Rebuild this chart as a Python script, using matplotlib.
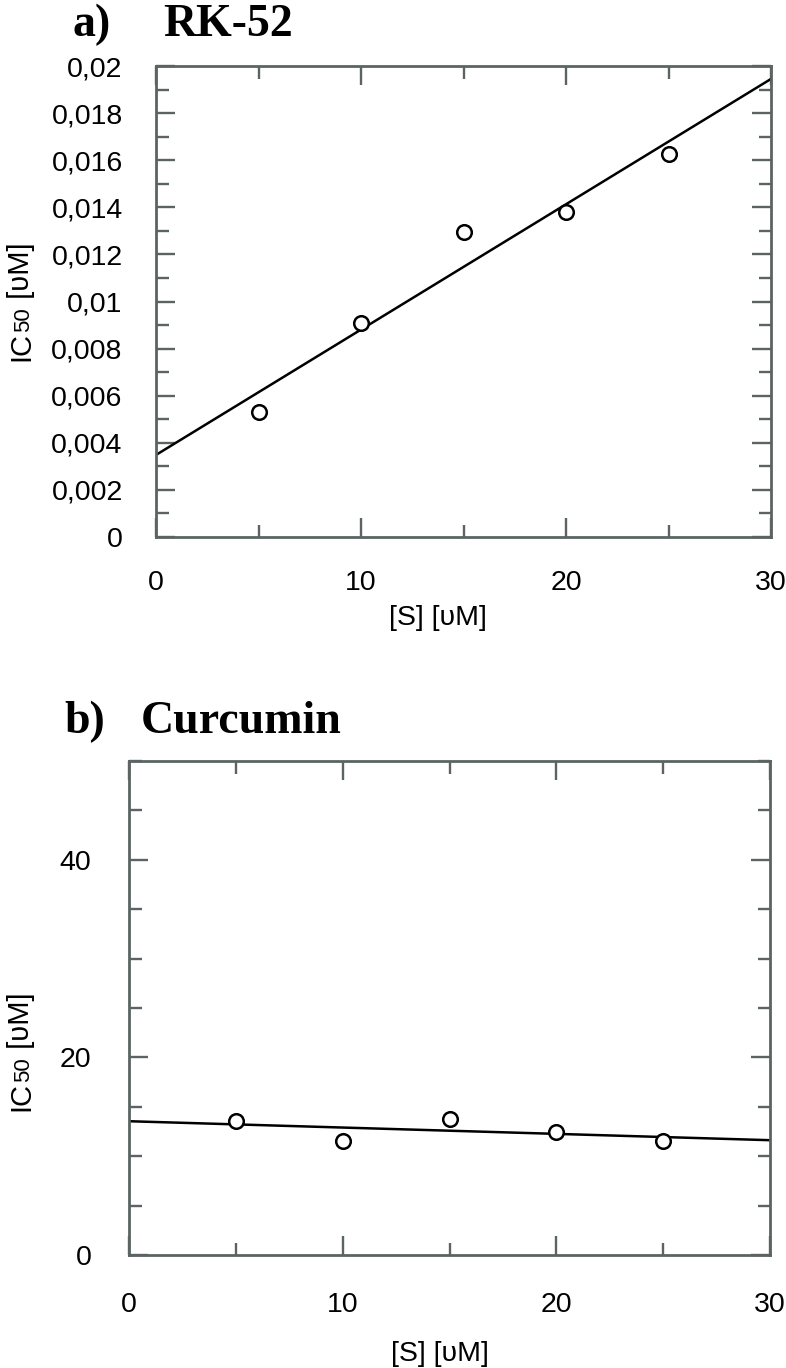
import numpy as np
import matplotlib
matplotlib.use('Agg')
from matplotlib import pyplot as plt
from matplotlib.ticker import MultipleLocator, FuncFormatter

# data
s_conc = [5, 10, 15, 20, 25]                                  # [S] in uM
ic50_rk52 = [0.00529, 0.00909, 0.01293, 0.01378, 0.01625]     # panel a
ic50_curcumin = [13.6, 11.5, 13.8, 12.5, 11.5]                # panel b
x_range = [0, 30]

W, H = 786, 1368
sans = ['Liberation Sans', 'DejaVu Sans']
serif = ['Liberation Serif', 'DejaVu Serif']
axis_grey = '#5c6363'

fig = plt.figure(figsize=(W / 100, H / 100), dpi=100)


def comma_fmt(v, pos):
    if abs(v) < 1e-12:
        return '0'
    return f'{v:g}'.replace('.', ',')


def setup_axes(rect, ylim, ymajor, yminor, xlabel_pos):
    ax = fig.add_axes(rect)
    ax.set_xlim(*x_range)
    ax.set_ylim(*ylim)
    ax.xaxis.set_major_locator(MultipleLocator(10))
    ax.xaxis.set_minor_locator(MultipleLocator(5))
    ax.yaxis.set_major_locator(MultipleLocator(ymajor))
    ax.yaxis.set_minor_locator(MultipleLocator(yminor))
    ax.yaxis.set_major_formatter(FuncFormatter(comma_fmt))
    for sp in ax.spines.values():
        sp.set_color(axis_grey)
        sp.set_linewidth(2)
    ax.tick_params(which='both', direction='in', top=True, right=True,
                   color=axis_grey, width=1.7)
    ax.tick_params(which='major', length=13.5, pad=24, labelsize=20.5)
    ax.tick_params(which='minor', length=9)
    for lab in ax.get_xticklabels() + ax.get_yticklabels():
        lab.set_family(sans)
    ax.set_xlabel('[S] [υM]', fontsize=20.5, family=sans)
    ax.xaxis.set_label_coords(*xlabel_pos)
    return ax


def draw_series(ax, x, y):
    slope, icpt = np.polyfit(x, y, 1)
    xs = np.array(x_range, dtype=float)
    ax.plot(xs, icpt + slope * xs, c='black', lw=1.8, zorder=2)
    ax.plot(x, y, ls='none', marker='o', ms=10.5, mfc='white', mec='black',
            mew=1.8, zorder=3, clip_on=False)


def rotated_ylabel(x_px, y_px_top_img, parts):
    # parts drawn bottom-to-top, "50" smaller on the same baseline
    renderer = fig.canvas.get_renderer()
    y = H - y_px_top_img
    for s, size in parts:
        t = fig.text(x_px / W, y / H, s, rotation=90, rotation_mode='anchor',
                     ha='left', va='baseline', fontsize=size, family=sans)
        y += t.get_window_extent(renderer).height


# panel a
ax_a = setup_axes([156 / W, 1 - 537 / H, 615 / W, 471 / H], (0, 0.02), 0.002, 0.001,
                  (0.459, -0.145))
draw_series(ax_a, s_conc, ic50_rk52)
fig.text(73 / W, 1 - 36 / H, 'a)', fontsize=33, fontweight='bold', family=serif,
         ha='left', va='baseline')
fig.text(163 / W, 1 - 36 / H, 'RK-52', fontsize=33, fontweight='bold', family=serif,
         ha='left', va='baseline')
rotated_ylabel(29, 361, [('IC', 21), ('50', 16), (' [υM]', 21)])

# panel b
ax_b = setup_axes([129 / W, 1 - 1255 / H, 641 / W, 494 / H], (0, 50), 20, 5,
                  (0.485, -0.175))
ax_b.tick_params(which='major', pad=27)
draw_series(ax_b, s_conc, ic50_curcumin)
fig.text(64 / W, 1 - 733 / H, 'b)', fontsize=33, fontweight='bold', family=serif,
         ha='left', va='baseline')
fig.text(141 / W, 1 - 733 / H, 'Curcumin', fontsize=33, fontweight='bold', family=serif,
         ha='left', va='baseline')
rotated_ylabel(29, 1111, [('IC', 21), ('50', 16), (' [υM]', 21)])

fig.savefig('out.png', dpi=100)
